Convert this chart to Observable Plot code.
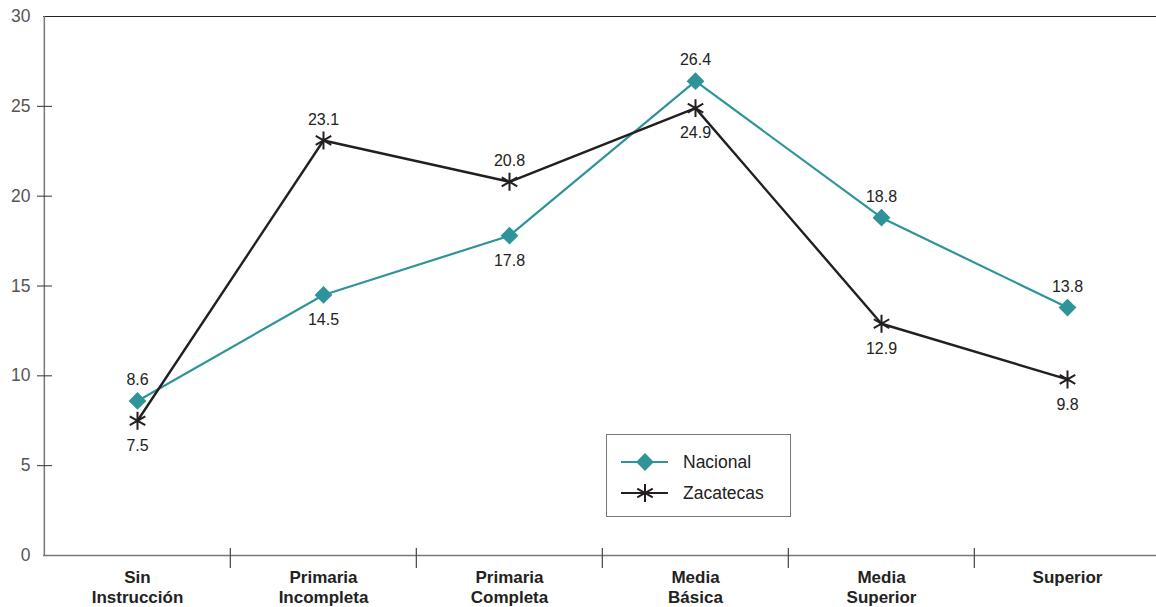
<!DOCTYPE html>
<html>
<head>
<meta charset="utf-8">
<script src="https://cdn.jsdelivr.net/npm/d3@7"></script>
<script src="https://cdn.jsdelivr.net/npm/@observablehq/plot@0.6"></script>
<style>
  html, body { margin: 0; padding: 0; background: #fff; }
  #wrap { position: relative; width: 1156px; height: 607px; overflow: hidden; font-family: "Liberation Sans", Arial, sans-serif; }
  #legend { position: absolute; left: 606px; top: 434px; width: 185px; height: 83px; border: 1px solid #777; background: #fff; box-sizing: border-box; }
  #legend svg { display: block; }
</style>
</head>
<body>
<div id="wrap"><div id="chart"></div><div id="legend"></div></div>
<script>
const categories = ["Sin Instrucción", "Primaria Incompleta", "Primaria Completa", "Media Básica", "Media Superior", "Superior"];
const nacional = [8.6, 14.5, 17.8, 26.4, 18.8, 13.8];
const zacatecas = [7.5, 23.1, 20.8, 24.9, 12.9, 9.8];
const nacionalLabelSide = ["above", "below", "below", "above", "above", "above"];
const zacatecasLabelSide = ["below", "above", "above", "below", "below", "below"];
const yTicks = [0, 5, 10, 15, 20, 25, 30];
const yTickMarks = [5, 10, 15, 20, 25];
const seriesNames = ["Nacional", "Zacatecas"];

const tealColor = "#2f9499";
const darkColor = "#231f20";
const font = "'Liberation Sans', Arial, sans-serif";

const rows = [];
categories.forEach((c, i) => {
  rows.push({series: "Nacional", cat: c, value: nacional[i], side: nacionalLabelSide[i]});
  rows.push({series: "Zacatecas", cat: c, value: zacatecas[i], side: zacatecasLabelSide[i]});
});
const nac = rows.filter(d => d.series === "Nacional");
const zac = rows.filter(d => d.series === "Zacatecas");

const W = 1156, H = 607, ML = 43, MT = 16, MB = 52;
const xRange = [ML, 1161];
const bw = (xRange[1] - xRange[0]) / categories.length;

const chart = Plot.plot({
  width: W,
  height: H,
  marginLeft: ML,
  marginRight: 0,
  marginTop: MT,
  marginBottom: MB,
  style: {fontFamily: font, background: "#fff", overflow: "hidden"},
  x: {type: "band", domain: categories, range: xRange, padding: 0, axis: null},
  y: {domain: [0, 30], axis: null},
  marks: [
    Plot.ruleY([30], {stroke: "#222", strokeWidth: 1.2}),
    Plot.ruleY([0], {stroke: "#777", strokeWidth: 1.5}),
    Plot.ruleX([categories[0]], {y1: 0, y2: 30, dx: -bw / 2, stroke: "#777", strokeWidth: 1.5}),
    Plot.axisY(yTicks, {tickSize: 0, tickPadding: 13, fontSize: 17.5, fill: "#555", label: null}),
    Plot.axisY(yTickMarks, {tickSize: 15, dx: 9, tickFormat: () => "", stroke: "#333", label: null}),
    Plot.ruleX(categories.slice(1), {y1: 0, y2: 0, dx: -bw / 2, insetTop: -7, insetBottom: -13, stroke: "#444", strokeWidth: 1.2}),
    Plot.axisX({tickSize: 0, tickPadding: 13, fontSize: 17, fontWeight: "bold", fill: "#222", lineHeight: 1.2,
      tickFormat: d => d.replace(" ", "\n"), label: null}),
    Plot.line(nac, {x: "cat", y: "value", stroke: tealColor, strokeWidth: 2.2}),
    Plot.line(zac, {x: "cat", y: "value", stroke: darkColor, strokeWidth: 2.4}),
    Plot.dot(nac, {x: "cat", y: "value", symbol: "diamond2", fill: tealColor, r: 8}),
    Plot.dot(zac, {x: "cat", y: "value", symbol: "asterisk", stroke: darkColor, strokeWidth: 2, r: 8.5}),
    Plot.text(rows.filter(d => d.side === "above"), {x: "cat", y: "value", text: d => d.value.toFixed(1), dy: -21, fontSize: 16, fill: "#222"}),
    Plot.text(rows.filter(d => d.side === "below"), {x: "cat", y: "value", text: d => d.value.toFixed(1), dy: 25, fontSize: 16, fill: "#222"})
  ]
});
document.getElementById("chart").appendChild(chart);

const lsvg = d3.select("#legend").append("svg").attr("width", 183).attr("height", 81);
const legendItems = [
  {name: seriesNames[0], color: tealColor, symbol: d3.symbolDiamond2, fill: true, r: 8},
  {name: seriesNames[1], color: darkColor, symbol: d3.symbolAsterisk, fill: false, r: 8.5}
];
legendItems.forEach((it, i) => {
  const cy = 27 + i * 31;
  const g = lsvg.append("g");
  g.append("line").attr("x1", 14).attr("x2", 61).attr("y1", cy).attr("y2", cy)
    .attr("stroke", it.color).attr("stroke-width", 2.2);
  const size = Math.PI * it.r ** 2;
  g.append("path").attr("transform", `translate(38,${cy})`)
    .attr("d", d3.symbol(it.symbol, size)())
    .attr("fill", it.fill ? it.color : "none")
    .attr("stroke", it.fill ? "none" : it.color)
    .attr("stroke-width", 2);
  g.append("text").attr("x", 76).attr("y", cy).attr("dy", "0.35em")
    .attr("font-size", 17.5).attr("fill", "#222")
    .attr("font-family", font)
    .text(it.name);
});
</script>
</body>
</html>
